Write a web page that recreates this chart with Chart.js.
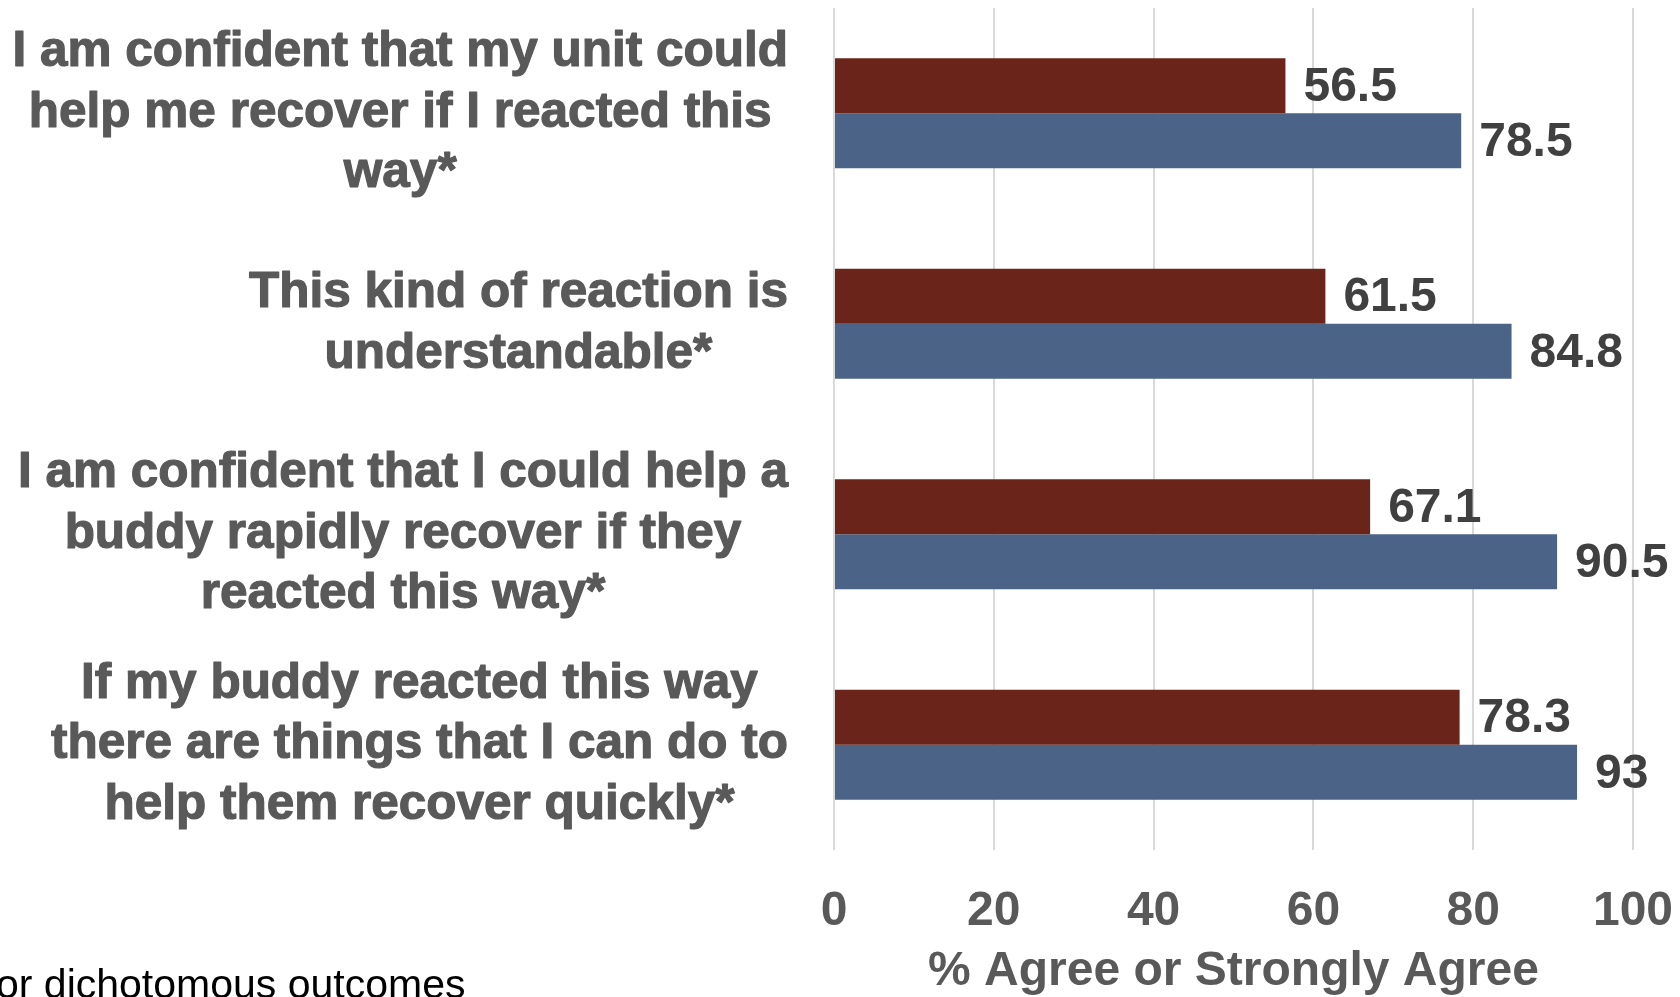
<!DOCTYPE html>
<html>
<head>
<meta charset="utf-8">
<title>% Agree or Strongly Agree</title>
<script src="https://cdn.jsdelivr.net/npm/chart.js@4/dist/chart.umd.min.js"></script>
<style>
    html, body { margin: 0; padding: 0; background: #fff; overflow: hidden; }
    #chart { display: block; }
</style>
</head>
<body>
<canvas id="chart" width="1680" height="1001"></canvas>
<script>
// Statements (one multi-line label per group)
const statements = [
    ['I am confident that my unit could', 'help me recover if I reacted this', 'way*'],
    ['This kind of reaction is', 'understandable*'],
    ['I am confident that I could help a', 'buddy rapidly recover if they', 'reacted this way*'],
    ['If my buddy reacted this way', 'there are things that I can do to', 'help them recover quickly*']
];

// Percent agreeing, per group
const redValues = [56.5, 61.5, 67.1, 78.3];
const blueValues = [78.5, 84.8, 90.5, 93];

const xTicks = [0, 20, 40, 60, 80, 100];
const xTitle = '% Agree or Strongly Agree';
const footnote = 'or dichotomous outcomes';

const FONT = "'Liberation Sans', Arial, Helvetica, sans-serif";
const labelSize = 49.5;
const labelLineHeight = 60.5;
const axisLeft = 834;
const labelRight = 788;

// statement labels: each block sits flush right against the axis,
// with its lines centred inside the block
const statementLabels = {
    id: 'statementLabels',
    afterDraw(chart) {
        const ctx = chart.ctx;
        const yScale = chart.scales.y;
        ctx.save();
        ctx.font = `bold ${labelSize}px ${FONT}`;
        ctx.fillStyle = '#595959';
        ctx.strokeStyle = '#595959';
        ctx.lineWidth = 1.2;
        ctx.lineJoin = 'round';
        ctx.textAlign = 'center';
        ctx.textBaseline = 'middle';
        statements.forEach((lines, i) => {
            const blockWidth = Math.max(...lines.map(l => ctx.measureText(l).width));
            const cx = labelRight - blockWidth / 2;
            const cy = yScale.getPixelForValue(i);
            const y0 = cy - (lines.length - 1) * labelLineHeight / 2;
            lines.forEach((line, k) => {
                ctx.fillText(line, cx, y0 + k * labelLineHeight);
                ctx.strokeText(line, cx, y0 + k * labelLineHeight);
            });
        });
        ctx.restore();
    }
};

// value labels at the end of each bar
const valueLabels = {
    id: 'valueLabels',
    afterDatasetsDraw(chart) {
        const ctx = chart.ctx;
        ctx.save();
        ctx.font = `bold 48px ${FONT}`;
        ctx.fillStyle = '#404040';
        ctx.textAlign = 'left';
        ctx.textBaseline = 'middle';
        chart.data.datasets.forEach((ds, i) => {
            chart.getDatasetMeta(i).data.forEach((bar, j) => {
                ctx.fillText(String(ds.data[j]), bar.x + 18, bar.y + 2);
            });
        });
        ctx.restore();
    }
};

// footnote running off the left edge
const footnoteText = {
    id: 'footnoteText',
    afterDraw(chart) {
        const ctx = chart.ctx;
        ctx.save();
        ctx.font = `41px ${FONT}`;
        ctx.fillStyle = '#000';
        ctx.textAlign = 'left';
        ctx.textBaseline = 'alphabetic';
        ctx.fillText(footnote, -4, 998);
        ctx.restore();
    }
};

const ctx = document.getElementById('chart').getContext('2d');
const chart = new Chart(ctx, {
    type: 'bar',
    data: {
        labels: statements,
        datasets: [{
            data: redValues,
            backgroundColor: '#6a2419',
            borderWidth: 0
        }, {
            data: blueValues,
            backgroundColor: '#4a6387',
            borderWidth: 0
        }]
    },
    options: {
        indexAxis: 'y',
        responsive: false,
        animation: false,
        layout: { padding: { top: 8, right: 47, left: 0, bottom: 0 } },
        datasets: {
            bar: { barPercentage: 1, categoryPercentage: 0.523 }
        },
        plugins: {
            legend: { display: false },
            tooltip: { enabled: false }
        },
        scales: {
            x: {
                min: 0,
                max: 100,
                afterBuildTicks(scale) {
                    scale.ticks = xTicks.map(v => ({ value: v }));
                },
                afterFit(scale) {
                    scale.height = 151;
                    scale.paddingLeft = 0;
                    scale.paddingRight = 0;
                },
                grid: { color: '#d9d9d9', lineWidth: 2, drawTicks: false },
                border: { display: false },
                ticks: {
                    padding: 33,
                    color: '#595959',
                    font: { family: FONT, size: 48, weight: 'bold' }
                },
                title: {
                    display: true,
                    text: xTitle,
                    color: '#595959',
                    font: { family: FONT, size: 48, weight: 'bold' },
                    padding: { top: 0, bottom: 0 }
                }
            },
            y: {
                afterFit(scale) {
                    scale.width = axisLeft;
                    scale.paddingTop = 0;
                    scale.paddingBottom = 0;
                },
                grid: { display: false, drawTicks: false },
                border: { display: false },
                ticks: { display: false }
            }
        }
    },
    plugins: [statementLabels, valueLabels, footnoteText]
});
</script>
</body>
</html>
